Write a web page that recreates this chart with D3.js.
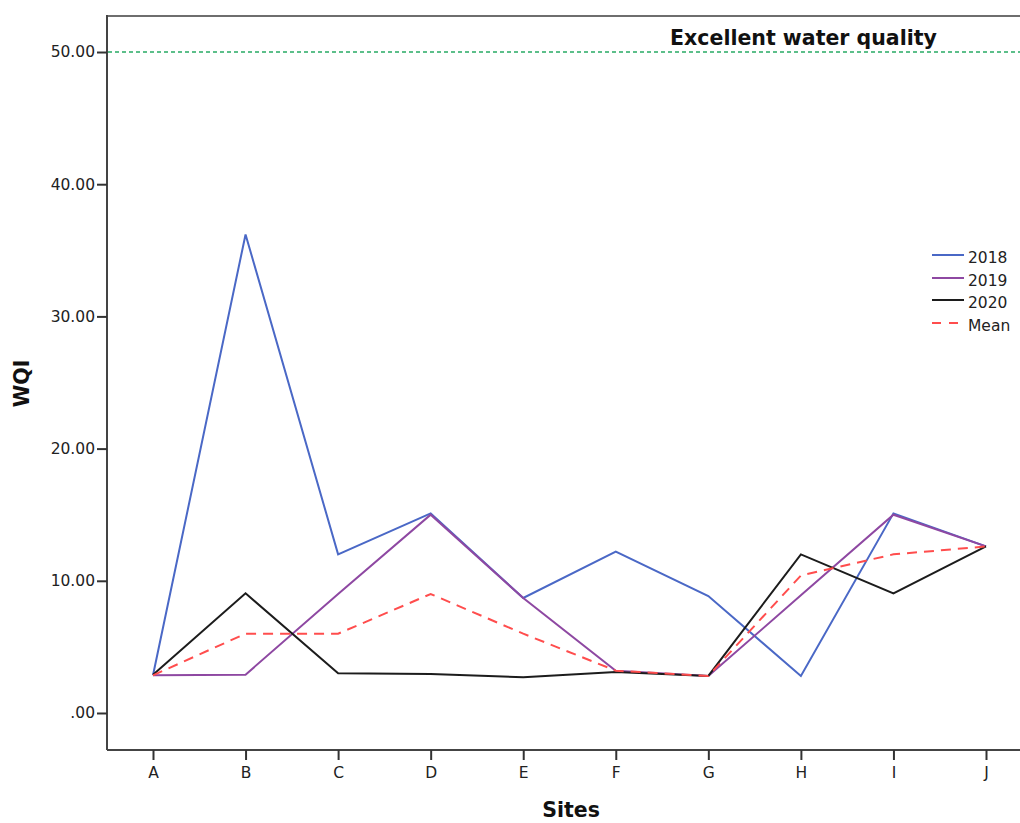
<!DOCTYPE html>
<html>
<head>
<meta charset="utf-8">
<script src="https://cdn.jsdelivr.net/npm/d3@7"></script>
<style>
  html, body { margin: 0; padding: 0; background: #fff; }
  svg { display: block; }
  text { font-family: "DejaVu Sans", Verdana, sans-serif; }
</style>
</head>
<body>
<svg id="chart" width="1020" height="823"></svg>
<script>
// Water quality index per sampling site
const sites = ["A", "B", "C", "D", "E", "F", "G", "H", "I", "J"];
const wqi2018 = [2.85, 36.2, 12.0, 15.1, 8.7, 12.2, 8.85, 2.8, 15.1, 12.6];
const wqi2019 = [2.85, 2.9, 9.0, 15.0, 8.7, 3.2, 2.8, 8.9, 15.0, 12.6];
const wqi2020 = [2.9, 9.05, 3.0, 2.95, 2.7, 3.1, 2.8, 12.0, 9.05, 12.6];
const wqiMean = [2.85, 6.0, 6.0, 9.0, 6.0, 3.2, 2.8, 10.4, 12.0, 12.6];
const yTicks = [0, 10, 20, 30, 40, 50];
const excellentLimit = 50;

const series = [
  { name: "2018", values: wqi2018, color: "#4a68c6", dash: null },
  { name: "2019", values: wqi2019, color: "#8e48a2", dash: null },
  { name: "2020", values: wqi2020, color: "#1c1c1c", dash: null },
  { name: "Mean", values: wqiMean, color: "#ff4d4d", dash: "10,7" }
];

const svg = d3.select("#chart");
const plotLeft = 107, plotTop = 15, plotRight = 1020, plotBottom = 750;
const tickFont = "DejaVu Sans, Verdana, sans-serif";

const x = d3.scalePoint().domain(sites).range([153, 986]);
const y = d3.scaleLinear().domain([-2.8, 52.8]).range([plotBottom, plotTop]);

// frame top edge
svg.append("line")
  .attr("x1", plotLeft).attr("x2", plotRight).attr("y1", plotTop + 1).attr("y2", plotTop + 1)
  .attr("stroke", "#6e6e6e").attr("stroke-width", 2);

// y axis
const yAxis = svg.append("g")
  .attr("transform", `translate(${plotLeft},0)`)
  .call(d3.axisLeft(y).tickValues(yTicks).tickSize(10).tickSizeOuter(0)
    .tickFormat(d => d === 0 ? ".00" : d3.format(".2f")(d)));
yAxis.select(".domain").attr("stroke", "#444").attr("stroke-width", 2)
  .attr("d", `M0,${plotTop}V${plotBottom}`);
yAxis.selectAll(".tick line").attr("stroke", "#333").attr("stroke-width", 2);
yAxis.selectAll(".tick text").attr("font-size", 15.5).attr("fill", "#222")
  .attr("font-family", tickFont).attr("x", -12);

// x axis
const xAxis = svg.append("g")
  .attr("transform", `translate(0,${plotBottom})`)
  .call(d3.axisBottom(x).tickSize(10).tickSizeOuter(0));
xAxis.select(".domain").attr("stroke", "#444").attr("stroke-width", 2)
  .attr("d", `M${plotLeft},0H${plotRight}`);
xAxis.selectAll(".tick line").attr("stroke", "#333").attr("stroke-width", 2);
xAxis.selectAll(".tick text").attr("font-size", 15.5).attr("fill", "#222")
  .attr("font-family", tickFont).attr("y", 17);

// reference line for excellent water quality
svg.append("line")
  .attr("x1", plotLeft + 1).attr("x2", plotRight)
  .attr("y1", y(excellentLimit)).attr("y2", y(excellentLimit))
  .attr("stroke", "#5cbf8a").attr("stroke-width", 2).attr("stroke-dasharray", "4,3");
svg.append("text")
  .attr("x", 803.5).attr("y", y(excellentLimit) - 7)
  .attr("text-anchor", "middle").attr("font-size", 20.5).attr("font-weight", "bold")
  .attr("fill", "#111").text("Excellent water quality");

// series lines
const line = d3.line().x((d, i) => x(sites[i])).y(d => y(d));
svg.append("g").selectAll("path").data(series).join("path")
  .attr("d", d => line(d.values))
  .attr("fill", "none")
  .attr("stroke", d => d.color)
  .attr("stroke-width", 2)
  .attr("stroke-linejoin", "miter")
  .attr("stroke-dasharray", d => d.dash);

// legend
const legend = svg.append("g");
const legendRows = [255, 278, 300, 323];
series.forEach((s, i) => {
  const g = legend.append("g").attr("transform", `translate(932,${legendRows[i]})`);
  g.append("line").attr("x1", 0).attr("x2", 32).attr("y1", 0).attr("y2", 0)
    .attr("stroke", s.color).attr("stroke-width", 2)
    .attr("stroke-dasharray", s.dash ? "9,8" : null);
  g.append("text").attr("x", 36).attr("y", 8).attr("font-size", 15.5)
    .attr("fill", "#222").text(s.name);
});

// axis titles
svg.append("text")
  .attr("transform", "translate(28.5,383.5) rotate(-90)")
  .attr("text-anchor", "middle").attr("font-size", 20.5).attr("font-weight", "bold")
  .attr("fill", "#111").text("WQI");
svg.append("text")
  .attr("x", 571).attr("y", 817)
  .attr("text-anchor", "middle").attr("font-size", 20.5).attr("font-weight", "bold")
  .attr("fill", "#111").text("Sites");
</script>
</body>
</html>
